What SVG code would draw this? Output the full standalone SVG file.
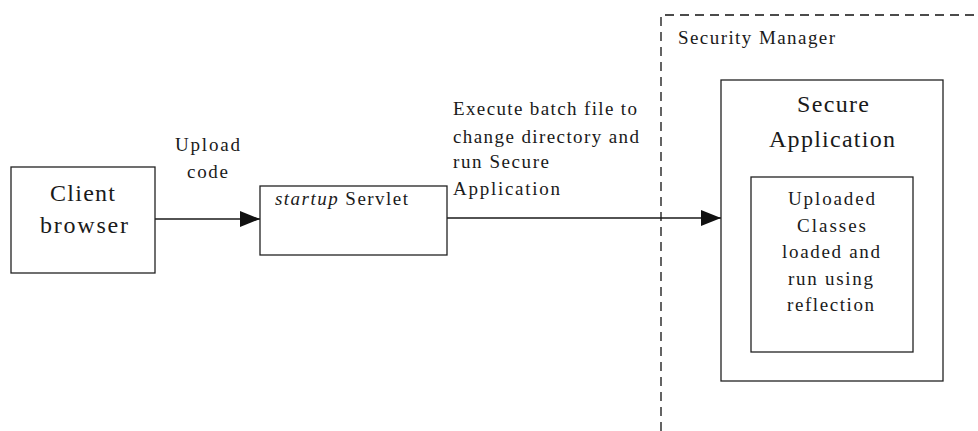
<svg xmlns="http://www.w3.org/2000/svg" width="978" height="431" viewBox="0 0 978 431">
  <style>
    .box { fill: #ffffff; stroke: #222222; stroke-width: 1.3; }
    .zone { fill: none; stroke: #111111; stroke-width: 1.3; stroke-dasharray: 9 6; }
    .wire { fill: none; stroke: #1a1a1a; stroke-width: 1.5; }
    text { font-family: "Liberation Serif", "Times New Roman", serif; fill: #1a1a1a; }
    .big { font-size: 24px; }
    .mid { font-size: 19px; }
  </style>
  <defs>
    <marker id="arrow" viewBox="0 0 20 16" refX="20" refY="8" markerWidth="20" markerHeight="16" markerUnits="userSpaceOnUse" orient="auto">
      <path d="M0,0 L20,8 L0,16 Z" fill="#111111"/>
    </marker>
  </defs>
  <rect width="978" height="431" fill="#ffffff"/>

  <!-- security manager boundary -->
  <g id="security-manager">
    <path class="zone" d="M661,431 L661,15 L978,15"/>
    <text class="mid" x="678" y="44" textLength="157" lengthAdjust="spacing">Security Manager</text>
  </g>

  <!-- connectors -->
  <g id="connectors">
    <line class="wire" x1="155" y1="219" x2="260" y2="219" marker-end="url(#arrow)"/>
    <line class="wire" x1="447" y1="218" x2="721" y2="218" marker-end="url(#arrow)"/>
    <text class="mid" x="175" y="151" textLength="65" lengthAdjust="spacing">Upload</text>
    <text class="mid" x="187" y="178" textLength="41" lengthAdjust="spacing">code</text>
    <text class="mid" x="453" y="115" textLength="184" lengthAdjust="spacing">Execute batch file to</text>
    <text class="mid" x="453" y="143" textLength="186" lengthAdjust="spacing">change directory and</text>
    <text class="mid" x="453" y="168" textLength="96" lengthAdjust="spacing">run Secure</text>
    <text class="mid" x="453" y="195" textLength="107" lengthAdjust="spacing">Application</text>
  </g>

  <g id="client-browser">
    <rect class="box" x="11" y="167" width="144" height="106"/>
    <text class="big" x="50" y="201" textLength="65" lengthAdjust="spacing">Client</text>
    <text class="big" x="40" y="233" textLength="88" lengthAdjust="spacing">browser</text>
  </g>

  <g id="startup-servlet">
    <rect class="box" x="260" y="186" width="187" height="69"/>
    <text class="mid" x="275" y="205" textLength="133" lengthAdjust="spacing"><tspan font-style="italic">startup</tspan> Servlet</text>
  </g>

  <g id="secure-application">
    <rect class="box" x="721" y="80" width="222" height="301"/>
    <text class="big" x="797" y="112" textLength="72" lengthAdjust="spacing">Secure</text>
    <text class="big" x="769" y="147" textLength="126" lengthAdjust="spacing">Application</text>
  </g>

  <g id="uploaded-classes">
    <rect class="box" x="751" y="177" width="162" height="175"/>
    <text class="mid" x="788" y="205" textLength="87" lengthAdjust="spacing">Uploaded</text>
    <text class="mid" x="797" y="232" textLength="69" lengthAdjust="spacing">Classes</text>
    <text class="mid" x="782" y="258" textLength="98" lengthAdjust="spacing">loaded and</text>
    <text class="mid" x="788" y="285" textLength="85" lengthAdjust="spacing">run using</text>
    <text class="mid" x="787" y="311" textLength="87" lengthAdjust="spacing">reflection</text>
  </g>
</svg>
